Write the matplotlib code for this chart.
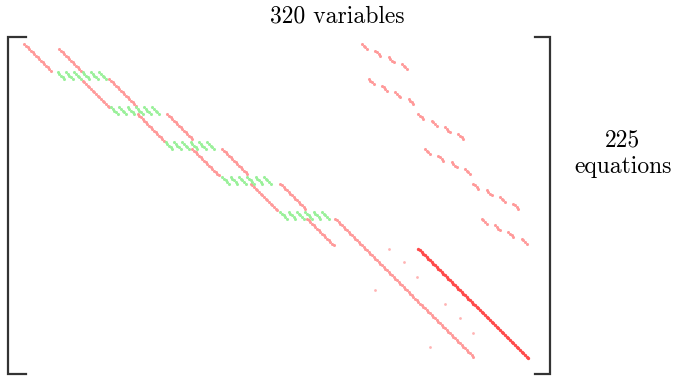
import numpy as np
import matplotlib.pyplot as plt

# sparsity layout: first (row, col) of each diagonal run
low_rows = [2, 24, 44, 65, 86, 107]
low_cols = [7, 42, 75, 108, 143, 177]
low_len = [17, 17, 17, 17, 17, 17]

up_rows = [5, 23, 44, 65, 86, 107]
up_cols = [28, 58, 93, 126, 161, 194]
up_len = [14, 17, 16, 16, 16, 84]

# green coupling blocks: 6 short diagonals of 5 entries each
grn_rows = [19, 40, 61, 82, 103]
grn_cols = [27, 59, 92, 126, 161]
grn_n_dash = 6
grn_dash = 5

# dashed blocks on the right: 4 short diagonals of 4 entries, step 4 rows / 8 cols
dash_rows = [2, 23, 44, 65, 86, 107]
dash_cols = [210, 214, 244, 248, 277, 282]

heavy_row, heavy_col, heavy_len = 125, 244, 67

dot_rows = [125, 133, 142, 150, 158, 167, 176, 184]
dot_cols = [226, 235, 243, 218, 260, 269, 277, 251]

n_vars = 320
n_eqs = 225


def diag(r0, c0, n):
    i = np.arange(n)
    return r0 + i, c0 + i


red_r, red_c = [], []
for r0, c0, n in zip(low_rows + up_rows, low_cols + up_cols, low_len + up_len):
    r, c = diag(r0, c0, n)
    red_r.append(r)
    red_c.append(c)
for r0, c0 in zip(dash_rows, dash_cols):
    for j in range(4):
        r, c = diag(r0 + 4 * j, c0 + 8 * j, 4)
        red_r.append(r)
        red_c.append(c)
red_r = np.concatenate(red_r)
red_c = np.concatenate(red_c)

g_r, g_c = [], []
for r0, c0 in zip(grn_rows, grn_cols):
    for j in range(grn_n_dash):
        r, c = diag(r0, c0 + grn_dash * j, grn_dash)
        g_r.append(r)
        g_c.append(c)
g_r = np.concatenate(g_r)
g_c = np.concatenate(g_c)

h_r, h_c = diag(heavy_row, heavy_col, heavy_len)

fig = plt.figure(figsize=(6.76, 3.8), dpi=100)
ax = fig.add_axes([12 / 676, 1 - 372 / 380, 532 / 676, 332 / 380])
ax.plot(red_c, red_r, ls='none', marker='o', ms=2.2, mew=0, color='#ff9a9a')
ax.plot(g_c, g_r, ls='none', marker='o', ms=2.2, mew=0, color='#9af09a')
ax.plot(h_c, h_r, ls='none', marker='o', ms=2.4, mew=0, color='#ff4a4a')
ax.plot(dot_cols, dot_rows, ls='none', marker='o', ms=2.0, mew=0, color='#ffb4b4')
ax.set_xlim(-0.5, n_vars - 0.5)
ax.set_ylim(199.2, -0.5)
ax.axis('off')

# brackets and labels in pixel coordinates
ov = fig.add_axes([0, 0, 1, 1])
ov.set_xlim(0, 676)
ov.set_ylim(380, 0)
ov.axis('off')
ov.plot([26, 8, 8, 26], [37, 37, 374, 374], color='#333333', lw=1.6, solid_joinstyle='miter')
ov.plot([535, 549.5, 549.5, 535], [37, 37, 374, 374], color='#333333', lw=1.6, solid_joinstyle='miter')
ov.text(337, 16, f'{n_vars} variables', ha='center', va='center', fontsize=17, family='cmr10')
ov.text(623, 154, f'{n_eqs}\nequations', ha='center', va='center', fontsize=17,
        family='cmr10', linespacing=1.25)

fig.savefig('out.png', dpi=100)
